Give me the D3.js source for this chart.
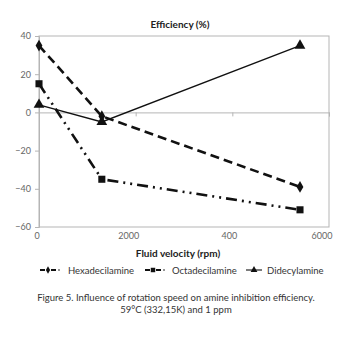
<!DOCTYPE html>
<html>
<head>
<meta charset="utf-8">
<script src="https://cdn.jsdelivr.net/npm/d3@7"></script>
<style>
  body { margin: 0; background: #fff; }
  svg text { font-family: Lato, "Open Sans", sans-serif; }
</style>
</head>
<body>
<svg id="chart" width="350" height="338"></svg>
<script>
// data
var velocity = [0, 1300, 5400];
var hexadecilamine = [35, -2, -39];
var octadecilamine = [15, -35, -51];
var didecylamine = [4, -5, 35];
var seriesNames = ["Hexadecilamine", "Octadecilamine", "Didecylamine"];
var xTicks = [0, 2000, 4000, 6000];
var xTickLabels = ["0", "2000", "400", "6000"];   // as printed in the figure
var yTicks = [40, 20, 0, -20, -40, -60];

var margin = {top: 36, right: 21, bottom: 111, left: 39}
  , width = 350 - margin.left - margin.right
  , height = 338 - margin.top - margin.bottom;

var svg = d3.select("#chart");

var x = d3.scaleLinear()
    .domain([0, 6000])
    .range([0, width]);

var y = d3.scaleLinear()
    .domain([-60, 40])
    .range([height, 0]);

var g = svg.append("g")
    .attr("transform", "translate(" + margin.left + "," + margin.top + ")");

// plot frame
g.append("rect")
    .attr("width", width)
    .attr("height", height)
    .attr("fill", "none")
    .attr("stroke", "#b5b5b5")
    .attr("stroke-width", 1);

// y axis
var yAxis = g.append("g")
    .call(d3.axisLeft(y).tickValues(yTicks).tickSize(4).tickPadding(4));
yAxis.select(".domain").attr("stroke", "#b5b5b5");
yAxis.selectAll(".tick line").attr("stroke", "#b5b5b5");
yAxis.selectAll("text").attr("fill", "#666").style("font-size", "9px");

// x axis sits on zero, labels at the bottom
var xAxis = g.append("g")
    .attr("transform", "translate(0," + y(0) + ")")
    .call(d3.axisBottom(x).tickValues(xTicks).tickSize(4).tickFormat(""));
xAxis.select(".domain").attr("stroke", "#b5b5b5");
xAxis.selectAll(".tick line").attr("stroke", "#b5b5b5");

g.selectAll(".xlab")
    .data(xTicks)
  .enter().append("text")
    .attr("class", "xlab")
    .attr("x", function(d, i) { return x(d) + (i == 0 ? -2 : (i == 2 ? -3 : -7)); })
    .attr("y", height + 12)
    .attr("text-anchor", "middle")
    .attr("fill", "#666")
    .style("font-size", "9px")
    .text(function(d, i) { return xTickLabels[i]; });

// titles
svg.append("text")
    .attr("x", 180)
    .attr("y", 28)
    .attr("text-anchor", "middle")
    .style("font-size", "10px")
    .style("font-weight", "bold")
    .attr("fill", "#222")
    .text("Efficiency (%)");

svg.append("text")
    .attr("x", 178)
    .attr("y", 257)
    .attr("text-anchor", "middle")
    .style("font-size", "10px")
    .style("font-weight", "bold")
    .attr("fill", "#222")
    .text("Fluid velocity (rpm)");

var series = [
  {name: seriesNames[0], values: hexadecilamine, dash: "9,5", width: 2.6, symbol: d3.symbolDiamond, size: 40},
  {name: seriesNames[1], values: octadecilamine, dash: "11,5,2,5,2,5", width: 2.6, symbol: d3.symbolSquare, size: 50},
  {name: seriesNames[2], values: didecylamine, dash: null, width: 1.3, symbol: d3.symbolTriangle, size: 50}
];

var line = d3.line()
    .x(function(d, i) { return x(velocity[i]); })
    .y(function(d) { return y(d); });

series.forEach(function(s) {
  g.append("path")
      .datum(s.values)
      .attr("d", line)
      .attr("fill", "none")
      .attr("stroke", "#111")
      .attr("stroke-width", s.width)
      .attr("stroke-dasharray", s.dash);

  g.selectAll(null)
      .data(s.values)
    .enter().append("path")
      .attr("d", d3.symbol().type(s.symbol).size(s.size))
      .attr("transform", function(d, i) { return "translate(" + x(velocity[i]) + "," + y(d) + ")"; })
      .attr("fill", "#111");
});

// legend
var legendX = [40, 145, 246];
var legendText = [68, 172, 267];
var legend = svg.selectAll(".legend")
    .data(series)
  .enter().append("g")
    .attr("class", "legend")
    .attr("transform", function(d, i) { return "translate(" + legendX[i] + ",270)"; });

legend.append("line")
    .attr("x1", 0).attr("x2", 16)
    .attr("stroke", "#111")
    .attr("stroke-width", function(d) { return d.dash ? 1.8 : 1.1; })
    .attr("stroke-dasharray", function(d, i) { return i == 0 ? "5,6,5" : (i == 1 ? "5,6,5" : null); });

legend.append("path")
    .attr("d", function(d) { return d3.symbol().type(d.symbol).size(d.size * 0.4)(); })
    .attr("transform", "translate(8,0)")
    .attr("fill", "#111");

legend.filter(function(d) { return d.dash; }).append("circle")
    .attr("cx", 19)
    .attr("r", 0.8)
    .attr("fill", "#111");

legend.append("text")
    .attr("x", function(d, i) { return legendText[i] - legendX[i]; })
    .attr("y", 3.5)
    .style("font-size", "9.5px")
    .attr("fill", "#333")
    .text(function(d) { return d.name; });

// caption
var caption = svg.append("text")
    .attr("text-anchor", "middle")
    .style("font-size", "9.5px")
    .attr("fill", "#333");
caption.append("tspan")
    .attr("x", 176).attr("y", 301)
    .text("Figure 5. Influence of rotation speed on amine inhibition efficiency.");
caption.append("tspan")
    .attr("x", 176).attr("y", 313)
    .text("59°C (332,15K) and 1 ppm");
</script>
</body>
</html>
